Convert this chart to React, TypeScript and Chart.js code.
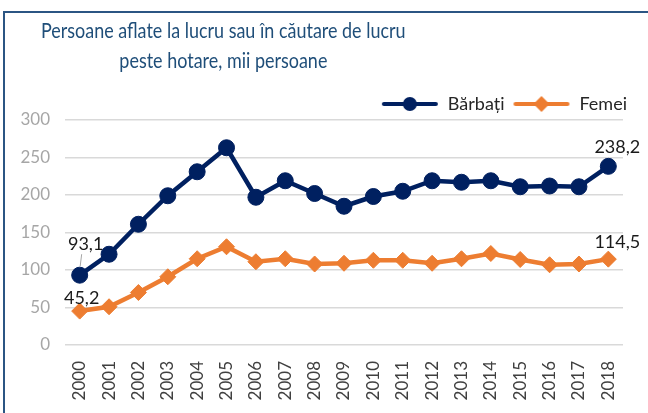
import React, { useEffect, useLayoutEffect, useRef } from "react";
import { Chart, registerables } from "chart.js";

Chart.register(...registerables);

const years = ["2000", "2001", "2002", "2003", "2004", "2005", "2006", "2007", "2008", "2009", "2010", "2011", "2012", "2013", "2014", "2015", "2016", "2017", "2018"];
const barbati = [93.1, 121, 161, 199, 231, 263, 197, 219, 202, 185, 198, 205, 219, 217, 219, 211, 212, 211, 238.2];
const femei = [45.2, 51, 70, 91, 115, 131, 111, 115, 108, 109, 113, 113, 109, 115, 122, 114, 107, 108, 114.5];
const seriesNames = ["Bărbați", "Femei"];
const titleLines = ["Persoane aflate la lucru sau în căutare de lucru", "peste hotare, mii persoane"];
const yMin = 0;
const yMax = 300;
const yStep = 50;
const labeledIndices = [0, 18];

const NAVY = "#002060";
const ORANGE = "#ED7D31";
const FONT = "Lato, 'Open Sans', sans-serif";

function makeLegendIcon(color: string, shape: "circle" | "diamond") {
  const c = document.createElement("canvas");
  c.width = 58;
  c.height = 18;
  const ctx = c.getContext("2d")!;
  ctx.strokeStyle = color;
  ctx.lineWidth = 4;
  ctx.lineCap = "round";
  ctx.beginPath();
  ctx.moveTo(3, 9);
  ctx.lineTo(55, 9);
  ctx.stroke();
  ctx.fillStyle = color;
  ctx.beginPath();
  if (shape === "circle") {
    ctx.arc(29, 9, 7, 0, Math.PI * 2);
  } else {
    ctx.moveTo(29, 1);
    ctx.lineTo(37, 9);
    ctx.lineTo(29, 17);
    ctx.lineTo(21, 9);
    ctx.closePath();
  }
  ctx.fill();
  return c;
}

const fmt = (v: number) => v.toFixed(1).replace(".", ",");

const legendShiftPlugin = {
  id: "legendShift",
  afterLayout(chart: any) {
    const lg = chart.legend;
    if (!lg) return;
    lg.left += 12;
    lg.right += 12;
    lg.top += 3;
    lg.bottom += 3;
  },
};

const valueLabelPlugin = {
  id: "valueLabels",
  afterDatasetsDraw(chart: any) {
    const ctx = chart.ctx;
    ctx.save();
    ctx.font = "18px " + FONT;
    ctx.fillStyle = "#1a1a1a";
    ctx.textAlign = "center";
    ctx.textBaseline = "middle";
    chart.data.datasets.forEach((ds: any, di: number) => {
      const meta = chart.getDatasetMeta(di);
      labeledIndices.forEach((idx) => {
        const pt = meta.data[idx];
        if (!pt) return;
        const v = ds.data[idx];
        const isFirst = idx === 0;
        let dx = isFirst ? 2 : 9;
        let dy = -17;
        if (isFirst && di === 0) {
          dx = 6;
          dy = -31;
          ctx.strokeStyle = "#A6A6A6";
          ctx.lineWidth = 1;
          ctx.beginPath();
          ctx.moveTo(pt.x + 0.5, pt.y - 9);
          ctx.lineTo(pt.x + 2, pt.y - 21);
          ctx.stroke();
        }
        if (!isFirst && di === 0) dy = -19;
        if (isFirst && di === 1) dy = -13;
        ctx.fillText(fmt(v), pt.x + dx, pt.y + dy);
      });
    });
    ctx.restore();
  },
};

export default function App() {
  const ref = useRef<HTMLCanvasElement>(null);
  const line1 = useRef<HTMLSpanElement>(null);
  const line2 = useRef<HTMLSpanElement>(null);

  useLayoutEffect(() => {
    if (!line1.current || !line2.current) return;
    const w = line1.current.offsetWidth;
    const k = w > 0 ? 365 / w : 1;
    line1.current.style.transform = `scaleX(${k})`;
    line2.current.style.transform = `scaleX(${k})`;
  }, []);

  useEffect(() => {
    if (!ref.current) return;
    const icons = [makeLegendIcon(NAVY, "circle"), makeLegendIcon(ORANGE, "diamond")];
    const chart = new Chart(ref.current, {
      type: "line",
      data: {
        labels: years,
        datasets: [
          {
            label: seriesNames[0],
            data: barbati,
            borderColor: NAVY,
            backgroundColor: NAVY,
            borderWidth: 4.5,
            pointStyle: "circle",
            pointRadius: 8,
            pointBorderWidth: 1,
            tension: 0,
          },
          {
            label: seriesNames[1],
            data: femei,
            borderColor: ORANGE,
            backgroundColor: ORANGE,
            borderWidth: 4.5,
            pointStyle: "rectRot",
            pointRadius: 8,
            pointBorderWidth: 1,
            tension: 0,
          },
        ],
      },
      options: {
        responsive: false,
        animation: false,
        devicePixelRatio: 1,
        layout: { padding: { top: 84, right: 25, bottom: 0, left: 0 } },
        plugins: {
          title: { display: false },
          tooltip: { enabled: false },
          legend: {
            display: true,
            position: "top",
            align: "end",
            labels: {
              usePointStyle: true,
              pointStyleWidth: 58,
              boxHeight: 16,
              padding: 8,
              color: "#262626",
              font: { size: 18, family: FONT },
              generateLabels: (ch: any) => {
                const items = (Chart.defaults.plugins.legend.labels as any).generateLabels(ch);
                items.forEach((it: any, i: number) => {
                  it.pointStyle = icons[i];
                });
                return items;
              },
            },
          },
        },
        scales: {
          x: {
            offset: true,
            grid: { display: false, drawTicks: false },
            border: { display: false },
            ticks: {
              minRotation: 90,
              maxRotation: 90,
              padding: 16,
              color: "#404040",
              font: { size: 17, family: FONT },
            },
            afterFit: (s: any) => {
              s.height = 68;
            },
          },
          y: {
            min: yMin,
            max: yMax,
            ticks: {
              stepSize: yStep,
              padding: 15,
              color: "#A6A6A6",
              font: { size: 17, family: FONT },
            },
            grid: { color: "#D9D9D9", lineWidth: 1.5, drawTicks: false },
            border: { display: false },
            afterFit: (s: any) => {
              s.width = 65;
            },
          },
        },
      },
      plugins: [legendShiftPlugin, valueLabelPlugin],
    });
    return () => chart.destroy();
  }, []);

  return (
    <div style={{ position: "absolute", left: 0, top: 0, width: 648, height: 413, overflow: "hidden", background: "#fff" }}>
      <canvas ref={ref} width={648} height={413} style={{ display: "block", width: 648, height: 413 }} />
      <div
        style={{
          position: "absolute",
          left: 3,
          top: 11,
          right: -10,
          bottom: -10,
          borderLeft: "2px solid #2B5583",
          borderTop: "2px solid #2B5583",
          pointerEvents: "none",
        }}
      />
      <div
        style={{
          position: "absolute",
          left: 0,
          top: 15,
          width: 446,
          textAlign: "center",
          color: "#1F4E79",
          fontFamily: FONT,
          fontSize: 22,
          lineHeight: "30px",
          whiteSpace: "nowrap",
        }}
      >
        <div>
          <span ref={line1} style={{ display: "inline-block", transformOrigin: "center" }}>{titleLines[0]}</span>
        </div>
        <div>
          <span ref={line2} style={{ display: "inline-block", transformOrigin: "center" }}>{titleLines[1]}</span>
        </div>
      </div>
    </div>
  );
}
